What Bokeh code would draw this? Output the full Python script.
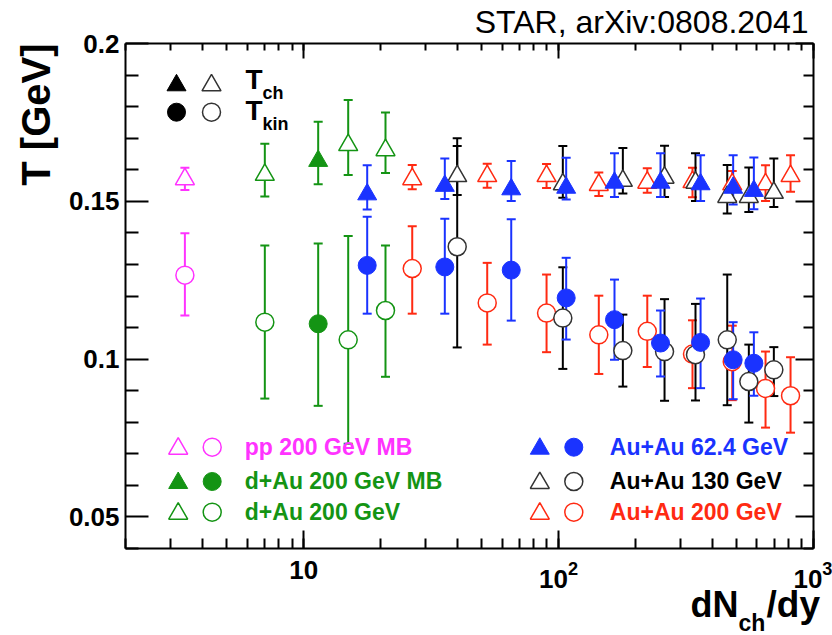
import numpy as np
from bokeh.plotting import figure
from bokeh.models import (ColumnDataSource, Whisker, TeeHead, Label, Range1d, LogScale, Grid,
                          LogAxis, LinearAxis, FixedTicker, LogTicker, LogTickFormatter)
from bokeh.embed import file_html
from bokeh.resources import INLINE

FONT = "Liberation Sans"

# ------------------------------------------------------------------ data
# pp 200 GeV MB
pp_x = [3.42]
pp_tch = [0.157]
pp_tch_hi = [0.0036]
pp_tch_lo = [0.0034]
pp_tkin = [0.1266]
pp_tkin_hi = [0.0133]
pp_tkin_lo = [0.0128]

# d+Au 200 GeV MB
dmb_x = [11.4]
dmb_tch = [0.1628]
dmb_tch_hi = [0.0124]
dmb_tch_lo = [0.0074]
dmb_tkin = [0.1112]
dmb_tkin_hi = [0.0254]
dmb_tkin_lo = [0.0260]

# d+Au 200 GeV (centrality bins)
dau_x = [7.04, 14.95, 20.94]
dau_tch = [0.1584, 0.1678, 0.1662]
dau_tch_hi = [0.0098, 0.0143, 0.0119]
dau_tch_lo = [0.0069, 0.0095, 0.0072]
dau_tkin = [0.1117, 0.1061, 0.1154]
dau_tkin_hi = [0.0243, 0.0329, 0.0206]
dau_tkin_lo = [0.0242, 0.0329, 0.0210]

# Au+Au 62.4 GeV
a62_x = [17.75, 35.78, 65.2, 107.1, 165.7, 251.1, 360.6, 484.0, 583.5]
a62_tch = [0.1522, 0.1549, 0.1538, 0.1543, 0.1559, 0.1559, 0.1554, 0.1543, 0.1533]
a62_tch_hi = [0.0092, 0.0087, 0.0090, 0.0095, 0.0093, 0.0093, 0.0092, 0.0103, 0.0106]
a62_tch_lo = [0.0048, 0.0042, 0.0037, 0.0037, 0.0045, 0.0045, 0.0053, 0.0053, 0.0058]
a62_tkin = [0.1297, 0.1292, 0.1282, 0.1194, 0.1125, 0.1051, 0.1053, 0.0998, 0.0987]
a62_tkin_hi = [0.0154, 0.0153, 0.0161, 0.0127, 0.0127, 0.0103, 0.0139, 0.0119, 0.0098]
a62_tkin_lo = [0.0153, 0.0148, 0.0160, 0.0132, 0.0127, 0.0106, 0.0145, 0.0125, 0.0103]

# Au+Au 130 GeV
a130_x = [40.02, 103.9, 178.7, 260.4, 344.4, 458.8, 557.6, 698.9]
a130_tch = [0.1580, 0.1554, 0.1565, 0.1575, 0.1559, 0.1514, 0.1514, 0.1527]
a130_tch_hi = [0.0120, 0.0121, 0.0104, 0.0101, 0.0093, 0.0101, 0.0093, 0.0109]
a130_tch_lo = [0.0060, 0.0043, 0.0040, 0.0061, 0.0058, 0.0053, 0.0048, 0.0045]
a130_tkin = [0.1356, 0.1130, 0.1027, 0.1024, 0.1014, 0.1061, 0.0929, 0.0966]
a130_tkin_hi = [0.0319, 0.0161, 0.0114, 0.0166, 0.0161, 0.0207, 0.0117, 0.0072]
a130_tkin_lo = [0.0319, 0.0161, 0.0114, 0.0156, 0.0145, 0.0207, 0.0130, 0.0083]

# Au+Au 200 GeV
a200_x = [26.66, 52.48, 89.7, 143.8, 222.8, 335.2, 480.0, 648.4, 812.7]
a200_tch = [0.1570, 0.1580, 0.1580, 0.1552, 0.1559, 0.1561, 0.1554, 0.1554, 0.1580]
a200_tch_hi = [0.0045, 0.0039, 0.0038, 0.0039, 0.0046, 0.0045, 0.0042, 0.0060, 0.0066]
a200_tch_lo = [0.0032, 0.0037, 0.0038, 0.0035, 0.0032, 0.0048, 0.0053, 0.0053, 0.0050]
a200_tkin = [0.1287, 0.1178, 0.1146, 0.1077, 0.1088, 0.1016, 0.0992, 0.0907, 0.0884]
a200_tkin_hi = [0.0134, 0.0127, 0.0122, 0.0124, 0.0113, 0.0107, 0.0114, 0.0117, 0.0122]
a200_tkin_lo = [0.0143, 0.0132, 0.0124, 0.0124, 0.0113, 0.0108, 0.0122, 0.0124, 0.0117]

y_major_ticks = [0.05, 0.1, 0.15, 0.2]
y_minor_ticks = [0.04, 0.06, 0.07, 0.08, 0.09, 0.11, 0.12, 0.13, 0.14,
                 0.16, 0.17, 0.18, 0.19]
y_tick_labels = ["0.05", "0.1", "0.15", "0.2"]

legend_left = ["pp 200 GeV MB", "d+Au 200 GeV MB", "d+Au 200 GeV"]
legend_right = ["Au+Au 62.4 GeV", "Au+Au 130 GeV", "Au+Au 200 GeV"]

# ------------------------------------------------------------------ style / layout
MAGENTA = "#ff33ff"
GREEN = "#149414"
BLUE = "#1a33ff"
BLACK = "#000000"
RED = "#ff2a12"
OPEN_BLACK = "#333333"

W, H = 832, 635
BL, BR, BT, BB = 125, 19, 43, 87          # box position inside the canvas (px)
FW, FH = W - BL - BR, H - BT - BB
X0, X1 = 2.0, 1000.0                      # axis box limits
Y0, Y1 = 0.04, 0.2

DEC = FW / np.log10(X1 / X0)              # px per decade
PPY = FH / (Y1 - Y0)                      # px per GeV
BASE_FIX = 0.35                           # baseline correction (fraction of font size)


def to_x(px):
    return X0 * 10 ** ((px - BL) / DEC)


def to_y(py):
    return Y1 - (py - BT) / PPY


# the frame spans the whole canvas; the box is drawn by axes at fixed locations
p = figure(width=W, height=H, x_axis_type="log",
           x_range=Range1d(to_x(0), to_x(W)), y_range=Range1d(to_y(H), to_y(0)),
           x_axis_location=None, y_axis_location=None,
           output_backend="svg", toolbar_location=None, min_border=0)
p.x_scale = LogScale()
p.title.visible = False
for g in p.select(type=Grid):
    g.visible = False
p.background_fill_color = "white"
p.border_fill_color = "white"
p.outline_line_color = None


def style_axis(ax, major_in, minor_in, labels=True):
    ax.axis_line_width = 2
    ax.axis_line_color = "black"
    ax.major_tick_line_width = 2
    ax.minor_tick_line_width = 2
    ax.major_tick_in = major_in
    ax.major_tick_out = 0
    ax.minor_tick_in = minor_in
    ax.minor_tick_out = 0
    if labels:
        ax.major_label_text_font = FONT
        ax.major_label_text_font_size = "26px"
        ax.major_label_text_font_style = "bold"
        ax.major_label_text_color = "black"
    else:
        ax.major_label_text_font_size = "2px"
        ax.major_label_text_alpha = 0.0
        ax.major_label_standoff = 0


bottom = LogAxis(fixed_location=Y0, bounds=(X0, X1),
                 ticker=LogTicker(num_minor_ticks=10),
                 formatter=LogTickFormatter())
style_axis(bottom, 18, 10)
bottom.major_label_standoff = 12
bottom.major_label_overrides = {10: "10"}
p.add_layout(bottom, "below")

left = LinearAxis(fixed_location=X0, bounds=(Y0, Y1),
                  ticker=FixedTicker(ticks=y_major_ticks, minor_ticks=y_minor_ticks))
left.major_label_overrides = {t: s for t, s in zip(y_major_ticks, y_tick_labels)}
style_axis(left, 23, 13)
left.major_label_standoff = 6
p.add_layout(left, "left")

top = LogAxis(fixed_location=Y1, bounds=(X0, X1), ticker=LogTicker(num_minor_ticks=10))
style_axis(top, 15, 7, labels=False)
p.add_layout(top, "above")

right = LinearAxis(fixed_location=X1, bounds=(Y0, Y1),
                   ticker=FixedTicker(ticks=y_major_ticks, minor_ticks=y_minor_ticks))
style_axis(right, 18, 10, labels=False)
p.add_layout(right, "right")


def make_source(x, y, lo, hi, color):
    src = ColumnDataSource(dict(x=x, y=y,
                                lo=[a - b for a, b in zip(y, lo)],
                                hi=[a + b for a, b in zip(y, hi)]))
    w = Whisker(source=src, base="x", lower="lo", upper="hi",
                line_color=color, line_width=2, level="underlay",
                upper_head=TeeHead(size=9, line_color=color, line_width=2),
                lower_head=TeeHead(size=9, line_color=color, line_width=2))
    p.add_layout(w)
    return src


def markers(src, color, marker, filled, size):
    if filled:
        p.scatter("x", "y", source=src, marker=marker, size=size,
                  fill_color=color, line_color=color, line_width=1)
    else:
        p.scatter("x", "y", source=src, marker=marker, size=size,
                  fill_color="white", line_color=color, line_width=1.5)


SETS = [
    (a200_x, a200_tch, a200_tch_lo, a200_tch_hi, a200_tkin, a200_tkin_lo, a200_tkin_hi, RED, False),
    (a130_x, a130_tch, a130_tch_lo, a130_tch_hi, a130_tkin, a130_tkin_lo, a130_tkin_hi, BLACK, False),
    (dau_x, dau_tch, dau_tch_lo, dau_tch_hi, dau_tkin, dau_tkin_lo, dau_tkin_hi, GREEN, False),
    (pp_x, pp_tch, pp_tch_lo, pp_tch_hi, pp_tkin, pp_tkin_lo, pp_tkin_hi, MAGENTA, False),
    (dmb_x, dmb_tch, dmb_tch_lo, dmb_tch_hi, dmb_tkin, dmb_tkin_lo, dmb_tkin_hi, GREEN, True),
    (a62_x, a62_tch, a62_tch_lo, a62_tch_hi, a62_tkin, a62_tkin_lo, a62_tkin_hi, BLUE, True),
]

srcs = []
for (x, tch, tchl, tchh, tk, tkl, tkh, col, fil) in SETS:
    s1 = make_source(x, tch, tchl, tchh, col)
    s2 = make_source(x, tk, tkl, tkh, col)
    srcs.append((s1, s2, col, fil))
for s1, s2, col, fil in srcs:
    mcol = OPEN_BLACK if (col == BLACK and not fil) else col
    markers(s1, mcol, "triangle", fil, 19)
    markers(s2, mcol, "circle", fil, 18)


def label(px, py, text, size, color="black", bold=True, align="left", vertical=False):
    fs = float(size.replace("px", ""))
    if vertical:
        px -= BASE_FIX * fs
    else:
        py -= BASE_FIX * fs
    p.add_layout(Label(x=to_x(px), y=to_y(py), text=text,
                       angle=np.pi / 2 if vertical else 0.0,
                       text_font=FONT, text_font_size=size,
                       text_font_style="bold" if bold else "normal",
                       text_color=color, text_align=align,
                       text_baseline="alphabetic"))


def key_mark(px, py, marker, color, filled, size):
    fc = color if filled else "white"
    lw = 1 if filled else 1.5
    p.scatter([to_x(px)], [to_y(py)], marker=marker, size=size,
              fill_color=fc, line_color=color, line_width=lw)


def legend_pair(px_tri, px_circ, py, color, filled):
    key_mark(px_tri, py + 1.5, "triangle", color, filled, 19)
    key_mark(px_circ, py, "circle", color, filled, 18)


# T_ch / T_kin key
key_mark(176, 84.8, "triangle", "black", True, 19)
key_mark(211, 84.8, "triangle", OPEN_BLACK, False, 19)
key_mark(176, 111.7, "circle", "black", True, 18)
key_mark(211, 111.7, "circle", OPEN_BLACK, False, 18)
label(245, 88.5, "T", "28px")
label(262, 98.5, "ch", "18px")
label(245, 119.5, "T", "28px")
label(262, 129.5, "kin", "18px")

# dataset legends
rows = [446.7, 481.0, 511.7]
left_cols = [MAGENTA, GREEN, GREEN]
left_fill = [False, True, False]
right_cols = [BLUE, BLACK, RED]
right_fill = [True, False, False]
for r, t, c, f in zip(rows, legend_left, left_cols, left_fill):
    legend_pair(177.7, 211.7, r, c, f)
    label(244.3, r + 7.8, t, "23px", color=c)
for r, t, c, f in zip(rows, legend_right, right_cols, right_fill):
    legend_pair(539.3, 573.3, r, OPEN_BLACK if c == BLACK else c, f)
    label(609.3, r + 7.8, t, "23px", color=c)

# axis titles
label(49.5, 43, "T [GeV]", "40px", align="right", vertical=True)
label(690, 616.5, "dN", "36px")
label(738, 631, "ch", "23px")
label(766, 616.5, "/dy", "37px")

# header
label(808, 32.3, "STAR, arXiv:0808.2041", "32px", bold=False, align="right")

open("out.html", "w").write(file_html(p, INLINE))
